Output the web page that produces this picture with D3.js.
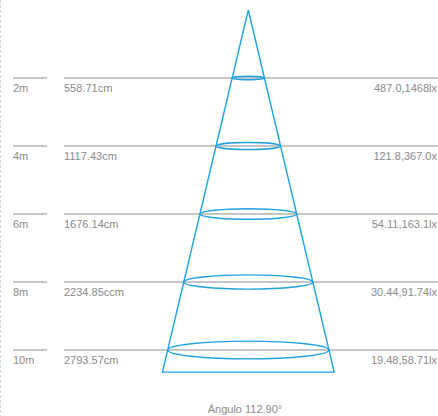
<!DOCTYPE html>
<html lang="es">
<head>
    <meta charset="UTF-8">
    <script src="https://d3js.org/d3.v7.min.js"></script>
    <style>
        html, body { margin: 0; padding: 0; background: #fff; }
        body { font-family: "Liberation Sans", Arial, sans-serif; }
        .label { font-size: 11px; fill: #8a8a8a; }
    </style>
</head>
<body>
    <svg id="chart"></svg>

    <script>
        // distancia (m), diámetro del haz (cm), iluminancia (lx)
        const distances = [2, 4, 6, 8, 10];
        const distLabels = ["2m", "4m", "6m", "8m", "10m"];
        const diameters = [558.71, 1117.43, 1676.14, 2234.85, 2793.57];
        const diamLabels = ["558.71cm", "1117.43cm", "1676.14cm", "2234.85ccm", "2793.57cm"];
        const luxLabels = ["487.0,1468lx", "121.8,367.0x", "54.11,163.1lx", "30.44,91.74lx", "19.48,58.71lx"];
        const angleLabel = "Ángulo 112.90°";
        const coneDepth = 10.65; // fondo del cono dibujado (m)

        const width = 438, height = 416;
        const blue = "#1ea3e1", grey = "#8c8c8c";

        const rows = distances.map((d, i) => ({
            dist: d,
            distLabel: distLabels[i],
            diam: diameters[i],
            diamLabel: diamLabels[i],
            lux: luxLabels[i]
        }));

        const svg = d3.select("#chart")
            .attr("width", width)
            .attr("height", height);

        // borde punteado izquierdo
        svg.append("line")
            .attr("x1", 0.5).attr("x2", 0.5)
            .attr("y1", 0).attr("y2", height)
            .attr("stroke", "#d6d6d6")
            .attr("stroke-dasharray", "3,2");

        const y = d3.scaleLinear()
            .domain([0, 10])
            .range([10, 350]);

        // radio del haz en cm -> px
        const x = d3.scaleLinear()
            .domain([-1500, 1500])
            .range([248.3 - 86.6, 248.3 + 86.6]);

        const radiusAt = dist => diameters[4] / 2 * dist / distances[4];

        // líneas de referencia
        svg.selectAll(".short")
            .data(rows)
            .enter()
            .append("line")
            .attr("x1", 13).attr("x2", 47)
            .attr("y1", d => y(d.dist)).attr("y2", d => y(d.dist))
            .attr("stroke", grey)
            .attr("stroke-width", 1);

        svg.selectAll(".long")
            .data(rows)
            .enter()
            .append("line")
            .attr("x1", 64).attr("x2", width)
            .attr("y1", d => y(d.dist)).attr("y2", d => y(d.dist))
            .attr("stroke", grey)
            .attr("stroke-width", 1);

        // cono
        const apex = [x(0), y(0)];
        const baseR = radiusAt(coneDepth);
        svg.append("path")
            .attr("d", d3.line()([
                apex,
                [x(-baseR), y(coneDepth)],
                [x(baseR), y(coneDepth)]
            ]) + "Z")
            .attr("fill", "none")
            .attr("stroke", blue)
            .attr("stroke-width", 1.4)
            .attr("stroke-linejoin", "miter");

        svg.selectAll(".ring")
            .data(rows)
            .enter()
            .append("ellipse")
            .attr("cx", x(0))
            .attr("cy", d => y(d.dist))
            .attr("rx", d => x(d.diam / 2) - x(0))
            .attr("ry", d => (x(d.diam / 2) - x(0)) * 0.11)
            .attr("fill", "none")
            .attr("stroke", blue)
            .attr("stroke-width", 1.4);

        // textos
        svg.selectAll(".dist")
            .data(rows)
            .enter()
            .append("text")
            .attr("class", "label")
            .attr("x", 13)
            .attr("y", d => y(d.dist) + 14)
            .text(d => d.distLabel);

        svg.selectAll(".diam")
            .data(rows)
            .enter()
            .append("text")
            .attr("class", "label")
            .attr("x", 64)
            .attr("y", d => y(d.dist) + 14)
            .text(d => d.diamLabel);

        svg.selectAll(".lux")
            .data(rows)
            .enter()
            .append("text")
            .attr("class", "label")
            .attr("x", 437)
            .attr("y", d => y(d.dist) + 14)
            .attr("text-anchor", "end")
            .text(d => d.lux);

        svg.append("text")
            .attr("class", "label")
            .attr("x", 245)
            .attr("y", 413)
            .attr("text-anchor", "middle")
            .text(angleLabel);
    </script>
</body>
</html>
